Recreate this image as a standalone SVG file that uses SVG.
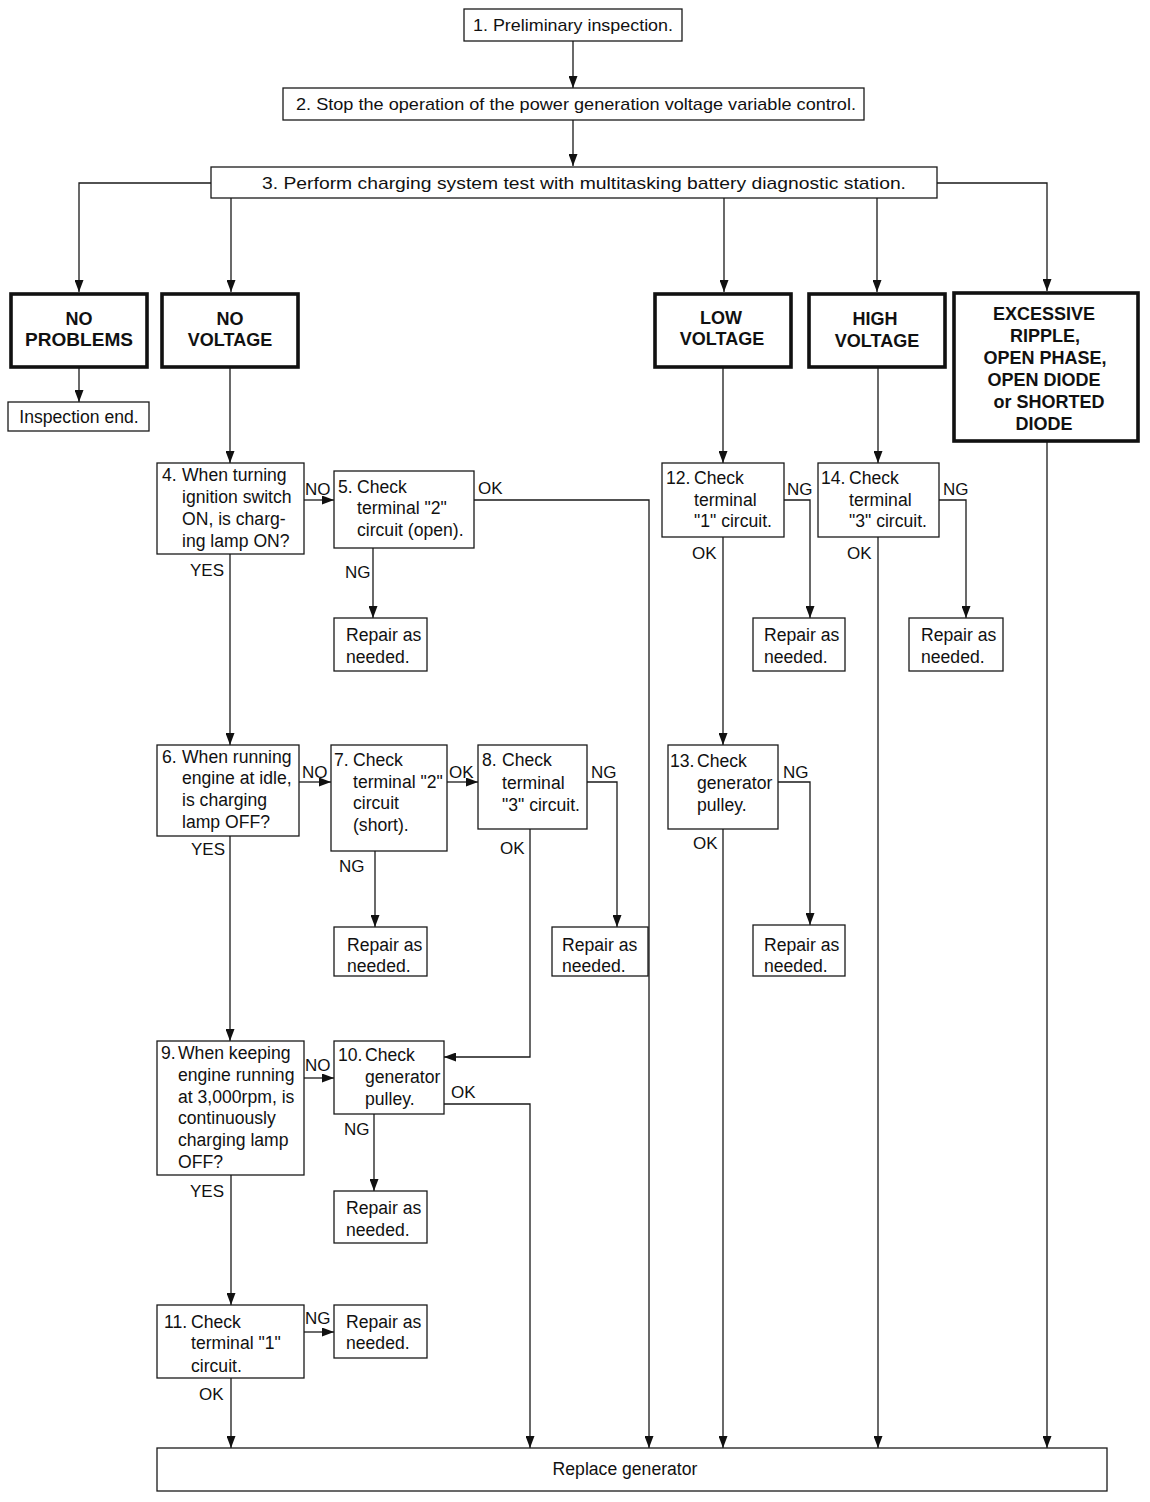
<svg xmlns="http://www.w3.org/2000/svg" width="1150" height="1502" viewBox="0 0 1150 1502">
<style>
.b{fill:#fff;stroke:#1a1a1a;stroke-width:1.3}
.h{fill:#fff;stroke:#111;stroke-width:3.6}
.t{font-family:"Liberation Sans",Arial,sans-serif;font-size:17.6px;fill:#111}
.tt{font-family:"Liberation Sans",Arial,sans-serif;font-size:17px;fill:#111}
.s{font-family:"Liberation Sans",Arial,sans-serif;font-size:17px;fill:#111}
.hb{font-family:"Liberation Sans",Arial,sans-serif;font-size:18px;font-weight:bold;fill:#111;text-anchor:middle}
.c{fill:none;stroke:#1a1a1a;stroke-width:1.3}
.m{text-anchor:middle}
</style>
<defs>
<marker id="ah" markerUnits="userSpaceOnUse" markerWidth="12" markerHeight="9" refX="12" refY="4.5" orient="auto">
<path d="M0,0 L12,4.5 L0,9 z" fill="#111"/>
</marker>
</defs>
<rect width="1150" height="1502" fill="#fff"/>

<g id="connectors">
<path class="c" d="M573,40 V88" marker-end="url(#ah)"/>
<path class="c" d="M573,120 V166" marker-end="url(#ah)"/>
<path class="c" d="M211,183 H79 V292" marker-end="url(#ah)"/>
<path class="c" d="M231,198 V292" marker-end="url(#ah)"/>
<path class="c" d="M724,198 V292" marker-end="url(#ah)"/>
<path class="c" d="M877,198 V292" marker-end="url(#ah)"/>
<path class="c" d="M937,183 H1047 V291" marker-end="url(#ah)"/>
<path class="c" d="M79,367 V402" marker-end="url(#ah)"/>
<path class="c" d="M230,368 V463" marker-end="url(#ah)"/>
<path class="c" d="M304,500 H334" marker-end="url(#ah)"/>
<path class="c" d="M474,500 H649 V1448" marker-end="url(#ah)"/>
<path class="c" d="M373,548 V618" marker-end="url(#ah)"/>
<path class="c" d="M230,554 V745" marker-end="url(#ah)"/>
<path class="c" d="M723,368 V463" marker-end="url(#ah)"/>
<path class="c" d="M784,500 H810 V618" marker-end="url(#ah)"/>
<path class="c" d="M723,537 V745" marker-end="url(#ah)"/>
<path class="c" d="M878,368 V463" marker-end="url(#ah)"/>
<path class="c" d="M939,500 H966 V618" marker-end="url(#ah)"/>
<path class="c" d="M878,537 V1448" marker-end="url(#ah)"/>
<path class="c" d="M1047,442 V1448" marker-end="url(#ah)"/>
<path class="c" d="M299,782 H331" marker-end="url(#ah)"/>
<path class="c" d="M447,782 H478" marker-end="url(#ah)"/>
<path class="c" d="M587,782 H617 V927" marker-end="url(#ah)"/>
<path class="c" d="M375,851 V927" marker-end="url(#ah)"/>
<path class="c" d="M530,829 V1057 H444" marker-end="url(#ah)"/>
<path class="c" d="M230,836 V1041" marker-end="url(#ah)"/>
<path class="c" d="M778,782 H810 V925" marker-end="url(#ah)"/>
<path class="c" d="M723,829 V1448" marker-end="url(#ah)"/>
<path class="c" d="M304,1078 H334" marker-end="url(#ah)"/>
<path class="c" d="M444,1104 H530 V1448" marker-end="url(#ah)"/>
<path class="c" d="M374,1114 V1191" marker-end="url(#ah)"/>
<path class="c" d="M231,1175 V1305" marker-end="url(#ah)"/>
<path class="c" d="M304,1332 H334" marker-end="url(#ah)"/>
<path class="c" d="M231,1378 V1448" marker-end="url(#ah)"/>
</g>

<g id="labels">
<text class="s" x="305" y="495">NO</text>
<text class="s" x="478" y="494">OK</text>
<text class="s" x="190" y="576">YES</text>
<text class="s" x="345" y="578">NG</text>
<text class="s" x="787" y="495">NG</text>
<text class="s" x="943" y="495">NG</text>
<text class="s" x="692" y="559">OK</text>
<text class="s" x="847" y="559">OK</text>
<text class="s" x="302" y="778">NO</text>
<text class="s" x="449" y="778">OK</text>
<text class="s" x="591" y="778">NG</text>
<text class="s" x="783" y="778">NG</text>
<text class="s" x="191" y="855">YES</text>
<text class="s" x="500" y="854">OK</text>
<text class="s" x="339" y="872">NG</text>
<text class="s" x="693" y="849">OK</text>
<text class="s" x="305" y="1071">NO</text>
<text class="s" x="451" y="1098">OK</text>
<text class="s" x="344" y="1135">NG</text>
<text class="s" x="190" y="1197">YES</text>
<text class="s" x="305" y="1324">NG</text>
<text class="s" x="199" y="1400">OK</text>
</g>

<g id="n1"><rect class="b" x="464" y="9" width="218" height="32"/>
<text class="tt m" x="573" y="31" textLength="200" lengthAdjust="spacingAndGlyphs">1. Preliminary inspection.</text></g>

<g id="n2"><rect class="b" x="283" y="88" width="581" height="32"/>
<text class="tt m" x="576" y="110" textLength="560" lengthAdjust="spacingAndGlyphs">2. Stop the operation of the power generation voltage variable control.</text></g>

<g id="n3"><rect class="b" x="211" y="167" width="726" height="31"/>
<text class="tt m" x="584" y="189" textLength="644" lengthAdjust="spacingAndGlyphs">3. Perform charging system test with multitasking battery diagnostic station.</text></g>

<g id="noproblems"><rect class="h" x="11" y="294" width="136" height="73"/>
<text class="hb" x="79" y="325">NO</text><text class="hb" x="79" y="346" textLength="108" lengthAdjust="spacingAndGlyphs">PROBLEMS</text></g>

<g id="novoltage"><rect class="h" x="162" y="294" width="136" height="73"/>
<text class="hb" x="230" y="325">NO</text><text class="hb" x="230" y="346">VOLTAGE</text></g>

<g id="lowvoltage"><rect class="h" x="655" y="294" width="136" height="73"/>
<text class="hb" x="721" y="324">LOW</text><text class="hb" x="722" y="345">VOLTAGE</text></g>

<g id="highvoltage"><rect class="h" x="809" y="294" width="136" height="73"/>
<text class="hb" x="875" y="325">HIGH</text><text class="hb" x="877" y="347">VOLTAGE</text></g>

<g id="excessive"><rect class="h" x="954" y="293" width="184" height="148"/>
<text class="hb" x="1044" y="320">EXCESSIVE</text>
<text class="hb" x="1045" y="342">RIPPLE,</text>
<text class="hb" x="1045" y="364">OPEN PHASE,</text>
<text class="hb" x="1044" y="386">OPEN DIODE</text>
<text class="hb" x="1049" y="408">or SHORTED</text>
<text class="hb" x="1044" y="430">DIODE</text></g>

<g id="inspend"><rect class="b" x="8" y="402" width="141" height="29"/>
<text class="t m" x="79" y="423">Inspection end.</text></g>

<g id="n4"><rect class="b" x="157" y="463" width="147" height="91"/>
<text class="t" x="162" y="481">4.</text>
<text class="t" x="182" y="481">When turning</text>
<text class="t" x="182" y="503">ignition switch</text>
<text class="t" x="182" y="525">ON, is charg-</text>
<text class="t" x="182" y="547">ing lamp ON?</text></g>

<g id="n5"><rect class="b" x="334" y="471" width="140" height="77"/>
<text class="t" x="338" y="493">5.</text>
<text class="t" x="357" y="493">Check</text>
<text class="t" x="357" y="514">terminal "2"</text>
<text class="t" x="357" y="536">circuit (open).</text></g>

<g id="r5"><rect class="b" x="334" y="618" width="93" height="53"/>
<text class="t" x="346" y="641">Repair as</text><text class="t" x="346" y="663">needed.</text></g>

<g id="n12"><rect class="b" x="662" y="463" width="122" height="74"/>
<text class="t" x="666" y="484">12.</text>
<text class="t" x="694" y="484">Check</text>
<text class="t" x="694" y="506">terminal</text>
<text class="t" x="694" y="527">"1" circuit.</text></g>

<g id="r12"><rect class="b" x="753" y="618" width="92" height="53"/>
<text class="t" x="764" y="641">Repair as</text><text class="t" x="764" y="663">needed.</text></g>

<g id="n14"><rect class="b" x="818" y="463" width="121" height="74"/>
<text class="t" x="821" y="484">14.</text>
<text class="t" x="849" y="484">Check</text>
<text class="t" x="849" y="506">terminal</text>
<text class="t" x="849" y="527">"3" circuit.</text></g>

<g id="r14"><rect class="b" x="909" y="618" width="94" height="53"/>
<text class="t" x="921" y="641">Repair as</text><text class="t" x="921" y="663">needed.</text></g>

<g id="n6"><rect class="b" x="157" y="745" width="142" height="91"/>
<text class="t" x="162" y="763">6.</text>
<text class="t" x="182" y="763">When running</text>
<text class="t" x="182" y="784">engine at idle,</text>
<text class="t" x="182" y="806">is charging</text>
<text class="t" x="182" y="828">lamp OFF?</text></g>

<g id="n7"><rect class="b" x="331" y="745" width="116" height="106"/>
<text class="t" x="334" y="766">7.</text>
<text class="t" x="353" y="766">Check</text>
<text class="t" x="353" y="788">terminal "2"</text>
<text class="t" x="353" y="809">circuit</text>
<text class="t" x="353" y="831">(short).</text></g>

<g id="r7"><rect class="b" x="334" y="927" width="93" height="49"/>
<text class="t" x="347" y="951">Repair as</text><text class="t" x="347" y="972">needed.</text></g>

<g id="n8"><rect class="b" x="478" y="745" width="109" height="84"/>
<text class="t" x="482" y="766">8.</text>
<text class="t" x="502" y="766">Check</text>
<text class="t" x="502" y="789">terminal</text>
<text class="t" x="502" y="811">"3" circuit.</text></g>

<g id="r8"><rect class="b" x="552" y="927" width="96" height="49"/>
<text class="t" x="562" y="951">Repair as</text><text class="t" x="562" y="972">needed.</text></g>

<g id="n13"><rect class="b" x="668" y="745" width="110" height="84"/>
<text class="t" x="670" y="767">13.</text>
<text class="t" x="697" y="767">Check</text>
<text class="t" x="697" y="789">generator</text>
<text class="t" x="697" y="811">pulley.</text></g>

<g id="r13"><rect class="b" x="753" y="925" width="92" height="51"/>
<text class="t" x="764" y="951">Repair as</text><text class="t" x="764" y="972">needed.</text></g>

<g id="n9"><rect class="b" x="157" y="1041" width="147" height="134"/>
<text class="t" x="161" y="1059">9.</text>
<text class="t" x="178" y="1059">When keeping</text>
<text class="t" x="178" y="1081">engine running</text>
<text class="t" x="178" y="1103">at 3,000rpm, is</text>
<text class="t" x="178" y="1124">continuously</text>
<text class="t" x="178" y="1146">charging lamp</text>
<text class="t" x="178" y="1168">OFF?</text></g>

<g id="n10"><rect class="b" x="334" y="1041" width="110" height="73"/>
<text class="t" x="338" y="1061">10.</text>
<text class="t" x="365" y="1061">Check</text>
<text class="t" x="365" y="1083">generator</text>
<text class="t" x="365" y="1105">pulley.</text></g>

<g id="r10"><rect class="b" x="334" y="1191" width="93" height="52"/>
<text class="t" x="346" y="1214">Repair as</text><text class="t" x="346" y="1236">needed.</text></g>

<g id="n11"><rect class="b" x="157" y="1305" width="147" height="73"/>
<text class="t" x="164" y="1328">11.</text>
<text class="t" x="191" y="1328">Check</text>
<text class="t" x="191" y="1349">terminal "1"</text>
<text class="t" x="191" y="1372">circuit.</text></g>

<g id="r11"><rect class="b" x="334" y="1305" width="93" height="53"/>
<text class="t" x="346" y="1328">Repair as</text><text class="t" x="346" y="1349">needed.</text></g>

<g id="replace"><rect class="b" x="157" y="1448" width="950" height="43"/>
<text class="t m" x="625" y="1475">Replace generator</text></g>
</svg>
